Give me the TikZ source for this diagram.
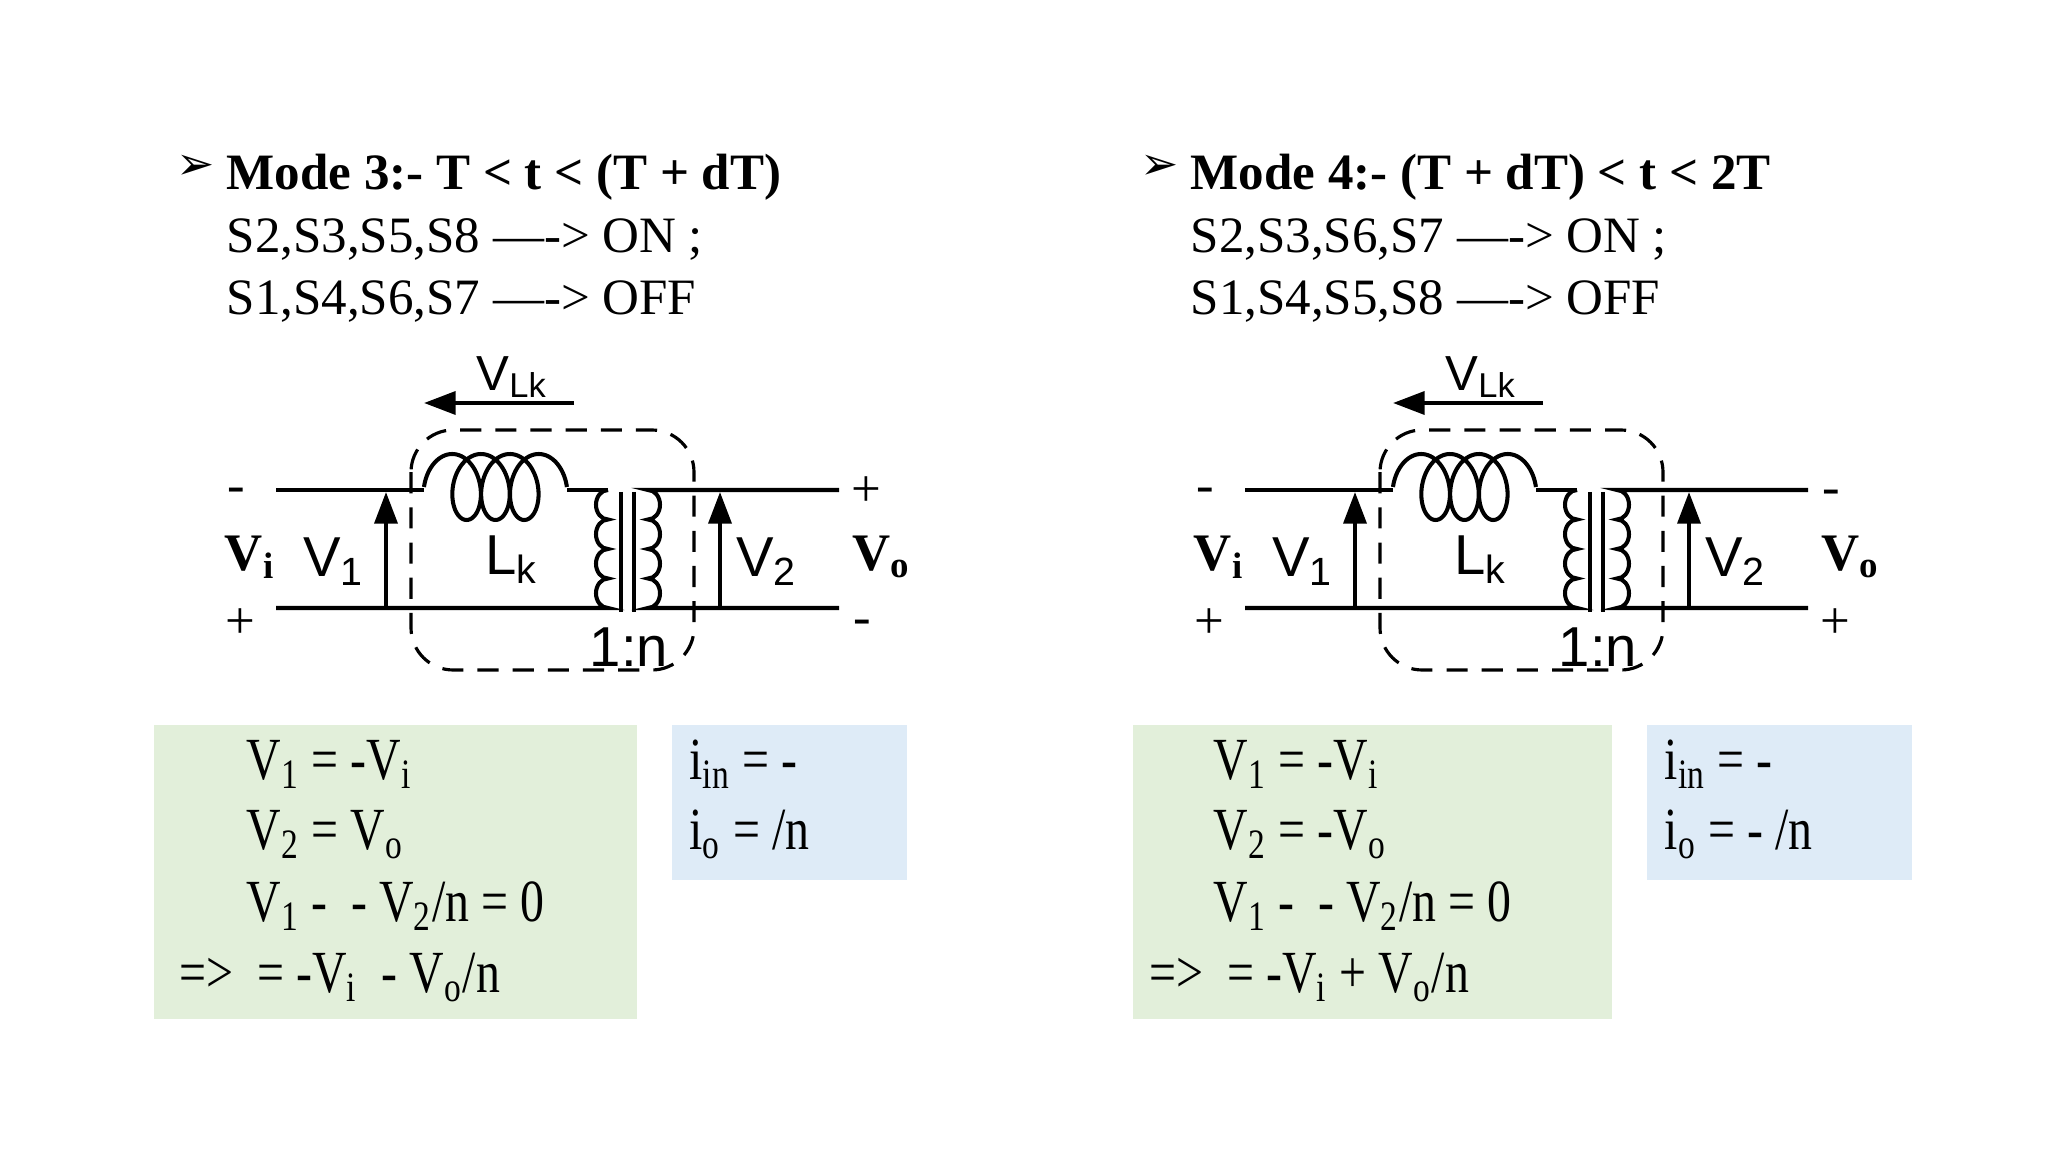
\documentclass[tikz,border=0pt]{standalone}
\usepackage{fontspec}
\setmainfont{Liberation Serif}
\newfontfamily\arial{Liberation Sans}
\newfontfamily\dejavu{DejaVu Sans}
\newfontfamily\condserif[FakeStretch=0.8]{Liberation Serif}
\usetikzlibrary{arrows.meta}
\tikzset{
 wire/.style={line width=1.15pt},
 dbox/.style={line width=0.9pt,dash pattern=on 6pt off 4pt,rounded corners=12pt},
 varrow/.style={line width=1.15pt,-{Triangle[length=9pt,width=6.5pt]}},
 title/.style={anchor=base west,inner sep=0pt,font=\fontsize{14.5}{17}\selectfont\bfseries},
 txt/.style={anchor=base west,inner sep=0pt,font=\fontsize{14.5}{17}\selectfont},
 eq/.style={anchor=base west,inner sep=0pt,font=\condserif\fontsize{17}{20}\selectfont},
 sans/.style={inner sep=0pt,font=\arial\fontsize{16}{18}\selectfont},
 sign/.style={inner sep=0pt,font=\fontsize{15}{17}\selectfont},
 bigv/.style={inner sep=0pt,font=\fontsize{15}{17}\selectfont\bfseries},
}
\definecolor{gbox}{HTML}{E2EFDA}
\definecolor{bbox}{HTML}{DEEBF7}
\newcommand{\circuitpanel}[3]{%
\begin{scope}[xshift=#1*0.01cm]
 \draw[wire] (276,490) -- (424,490);
 \draw[wire] plot[domain=-180:1080,samples=240,variable=\t] ({459.4+4.59*\t*pi/180+21*cos(\t)},{487+33*sin(\t)});
 \draw[wire] (567,490) -- (608,490);
 \draw[wire] (608,490)
   arc[start angle=270,end angle=90,x radius=12,y radius=14.75]
   arc[start angle=270,end angle=90,x radius=12,y radius=14.75]
   arc[start angle=270,end angle=90,x radius=12,y radius=14.75]
   arc[start angle=270,end angle=90,x radius=12,y radius=14.75] -- (276,608);
 \draw[wire] (839,490) -- (648,490)
   arc[start angle=-90,end angle=90,x radius=12,y radius=14.75]
   arc[start angle=-90,end angle=90,x radius=12,y radius=14.75]
   arc[start angle=-90,end angle=90,x radius=12,y radius=14.75]
   arc[start angle=-90,end angle=90,x radius=12,y radius=14.75] -- (839,608);
 \draw[wire] (621,492) -- (621,612);
 \draw[wire] (634,492) -- (634,612);
 \draw[dbox] (411,430) rectangle (694,670);
 \draw[varrow] (386,608) -- (386,492);
 \draw[varrow] (720,608) -- (720,492);
 \draw[varrow] (574,403) -- (424,403);
 \node[sans,font=\arial\fontsize{14}{16}\selectfont] (vlk) at (512,377) {V\textsubscript{Lk}};
 \node[sans] (v1) at (334,562) {V\textsubscript{1}};
 \node[sans] (lk) at (512,560) {L\textsubscript{k}};
 \node[sans] (v2) at (767,562) {V\textsubscript{2}};
 \node[sans] (ratio) at (629,647) {1:n};
 \node[sign] (sl1) at (236,495) {-};
 \node[sign] (sl2) at (240,624) {+};
 \node[bigv] (vi) at (250,557) {V\textsubscript{i}};
 \node[sign] (sr1) at #2 {#3};
\end{scope}}
\begin{document}
\begin{tikzpicture}[x=0.01cm,y=-0.01cm]
\useasboundingbox (0,0) rectangle (2048,1152);
\fill[white] (0,0) rectangle (2048,1152);
% ===== left panel =====
\node[anchor=base west,inner sep=0pt,font=\dejavu\fontsize{13}{15}\selectfont] (b1) at (176,180) {➢};
\node[title] (t1) at (226,190) {Mode 3:- T < t < (T + dT)};
\node[txt] (l1a) at (226,253) {S2,S3,S5,S8 ----> ON ;};
\node[txt] (l1b) at (226,315) {S1,S4,S6,S7 ----> OFF};
\circuitpanel{0}{(866,492)}{+}
\node[sign] (sr2) at (862,627) {-};
\node[bigv] (vo) at (882,557) {V\textsubscript{o}};
\fill[gbox] (154,725) rectangle (637,1019);
\fill[bbox] (672,725) rectangle (907,880);
\node[eq] (e1) at (246,779) {V\textsubscript{1} = -V\textsubscript{i}};
\node[eq] (e2) at (246,849) {V\textsubscript{2} = V\textsubscript{o}};
\node[eq] (e3) at (246,921) {V\textsubscript{1} -\ \ - V\textsubscript{2}/n = 0};
\node[eq] (e4) at (179,992) {=>\ \ = -V\textsubscript{i}\ \ - V\textsubscript{o}/n};
\node[eq] (c1) at (689,779) {i\textsubscript{in} = -};
\node[eq] (c2) at (689,849) {i\textsubscript{o} = /n};
% ===== right panel =====
\node[anchor=base west,inner sep=0pt,font=\dejavu\fontsize{13}{15}\selectfont] (b2) at (1140,180) {➢};
\node[title] (t2) at (1190,190) {Mode 4:- (T + dT) < t < 2T};
\node[txt] (l2a) at (1190,253) {S2,S3,S6,S7 ----> ON ;};
\node[txt] (l2b) at (1190,315) {S1,S4,S5,S8 ----> OFF};
\circuitpanel{969}{(862,497)}{-}
\node[sign] (sr4) at (1835,624) {+};
\node[bigv] (vo2) at (1851,557) {V\textsubscript{o}};
\fill[gbox] (1133,725) rectangle (1612,1019);
\fill[bbox] (1647,725) rectangle (1912,880);
\node[eq] (f1) at (1213,779) {V\textsubscript{1} = -V\textsubscript{i}};
\node[eq] (f2) at (1213,849) {V\textsubscript{2} = -V\textsubscript{o}};
\node[eq] (f3) at (1213,921) {V\textsubscript{1} -\ \ - V\textsubscript{2}/n = 0};
\node[eq] (f4) at (1149,992) {=>\ \ = -V\textsubscript{i} + V\textsubscript{o}/n};
\node[eq] (d1) at (1664,779) {i\textsubscript{in} = -};
\node[eq] (d2) at (1664,849) {i\textsubscript{o} = - /n};
\end{tikzpicture}
\end{document}
